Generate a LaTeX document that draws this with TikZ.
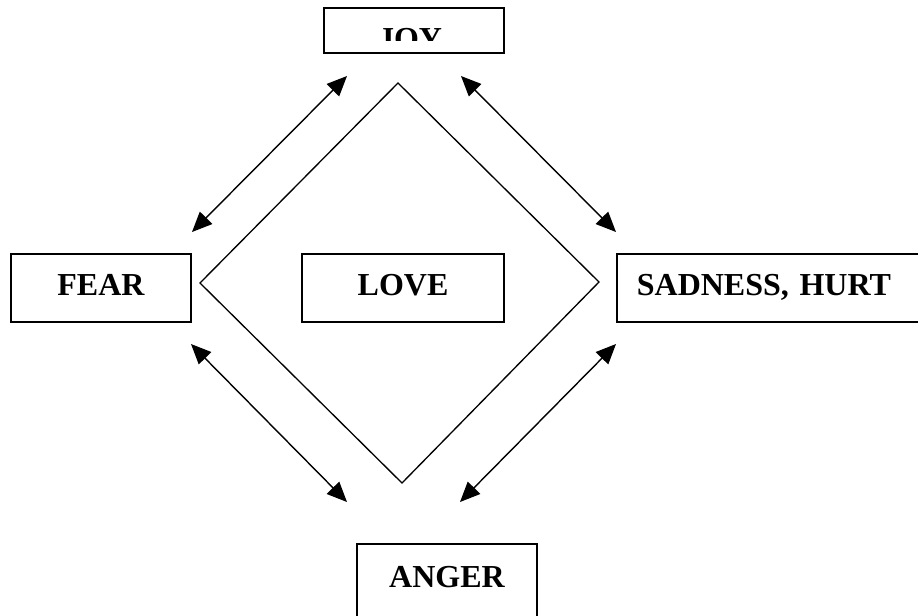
\documentclass[tikz,border=0pt]{standalone}
\usepackage{fontspec}
\setmainfont{Liberation Serif}
\usetikzlibrary{arrows.meta}
\tikzset{
	emotext/.style={font=\fontsize{24}{28}\selectfont\bfseries},
	emobox/.style={emotext, draw, line width=1.3pt, inner sep=0pt, minimum height=51pt, text height=16pt, text depth=5.5pt},
	twoway/.style={{Triangle[length=15pt,width=13pt]}-{Triangle[length=15pt,width=13pt]}, line width=1.05pt},
}

\begin{document}
\begin{tikzpicture}[x=0.75pt, y=-0.75pt]
			%%%%% START %%%%%
			\clip (0,0) rectangle (918,615);
			\fill[white] (0,0) rectangle (918,615);
			
			\node[emobox, minimum width=135pt, minimum height=33.75pt] (joy) at (414,30.5) {};
			\begin{scope}
				\clip (324,8) rectangle (504,40);
				\node[emotext, anchor=base] (joyword) at (410,49) {JOY};
			\end{scope}
			
			\node[emobox, minimum width=135pt] (fear) at (101,288) {FEAR};
			\node[emobox, minimum width=151.5pt] (love) at (403,288) {LOVE};
			\node[emobox, anchor=west, inner xsep=15pt, text width=213pt, align=left] (sad) at (616,288) {SADNESS, HURT};
			\node[emobox, minimum width=135pt, minimum height=67.5pt, text depth=19pt] (anger) at (447,589) {ANGER};
			
			\draw[line width=1pt] (398,83) -- (599,282) -- (402,483) -- (200,283) -- cycle;
			
			\coordinate (fjA) at (192,232);
			\coordinate (fjB) at (347,76);
			\coordinate (jsA) at (461,76);
			\coordinate (jsB) at (616,232);
			\coordinate (faA) at (191,344);
			\coordinate (faB) at (347,502);
			\coordinate (saA) at (616,344);
			\coordinate (saB) at (460,502);
			
			\draw[twoway] (fjA) -- (fjB);
			\draw[twoway] (jsA) -- (jsB);
			\draw[twoway] (faA) -- (faB);
			\draw[twoway] (saA) -- (saB);
			
			%%%%% END %%%%%
\end{tikzpicture}
\end{document}
